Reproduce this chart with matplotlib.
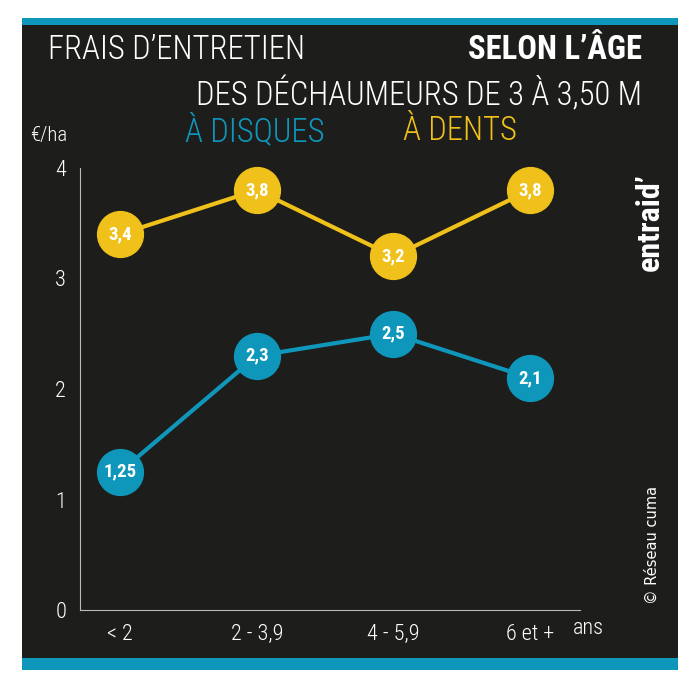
import matplotlib
matplotlib.use("Agg")
import matplotlib.pyplot as plt
from matplotlib import font_manager as fm
from matplotlib.patches import Rectangle

# Data
categories = ["< 2", "2 - 3,9", "4 - 5,9", "6 et +"]
disques = [1.25, 2.3, 2.5, 2.1]
dents = [3.4, 3.8, 3.2, 3.8]
disques_labels = ["1,25", "2,3", "2,5", "2,1"]
dents_labels = ["3,4", "3,8", "3,2", "3,8"]
yticks = [0, 1, 2, 3, 4]

BG = "#1d1d1b"
TEAL = "#0f97bb"
YELLOW = "#efc11a"

installed = {f.name for f in fm.fontManager.ttflist}
narrow = [n for n in ["Roboto Condensed", "Liberation Sans Narrow", "DejaVu Sans Condensed",
                      "Open Sans Condensed"] if n in installed]
FONT = narrow[:1] + ["Liberation Sans", "DejaVu Sans"]
plt.rcParams["font.family"] = FONT

W, H = 700, 689
fig = plt.figure(figsize=(W / 100, H / 100), dpi=100)
fig.patch.set_facecolor("white")

def px(x, y):
    return x / W, 1 - y / H

# black panel and teal bands
fig.patches.append(Rectangle(px(22, 670), 656 / W, 652 / H, transform=fig.transFigure,
                             facecolor=BG, edgecolor="none", zorder=-2))
fig.patches.append(Rectangle(px(22, 25), 656 / W, 7 / H, transform=fig.transFigure,
                             facecolor=TEAL, edgecolor="none", zorder=-1))
fig.patches.append(Rectangle(px(22, 670), 656 / W, 12 / H, transform=fig.transFigure,
                             facecolor=TEAL, edgecolor="none", zorder=-1))

ax = fig.add_axes([80 / W, 1 - 610 / H, 500 / W, 442 / H])
ax.set_zorder(2)
ax.set_facecolor("none")
x = list(range(len(categories)))

ax.plot(x, dents, color=YELLOW, lw=3, marker="o", ms=33, mfc=YELLOW, mec=YELLOW,
        zorder=3, clip_on=False)
ax.plot(x, disques, color=TEAL, lw=3, marker="o", ms=33, mfc=TEAL, mec=TEAL,
        zorder=3, clip_on=False)
for xi, v, lab in zip(x, dents, dents_labels):
    ax.text(xi, v, lab, color="white", fontsize=13.5, fontweight="bold",
            ha="center", va="center", zorder=4)
for xi, v, lab in zip(x, disques, disques_labels):
    ax.text(xi, v, lab, color="white", fontsize=13.5, fontweight="bold",
            ha="center", va="center", zorder=4)

ax.set_xlim(-0.293, 3.365)
ax.set_ylim(0, 4)
ax.set_xticks(x)
ax.set_xticklabels(categories, fontweight="light")
ax.set_yticks(yticks)
ax.set_yticklabels([str(t) for t in yticks], fontweight="light")
ax.tick_params(length=0, colors="white", labelsize=16, pad=10)
for s in ["top", "right"]:
    ax.spines[s].set_visible(False)
for s in ["left", "bottom"]:
    ax.spines[s].set_color("#bbbbbb")
    ax.spines[s].set_linewidth(0.8)

TS = 23.5 if narrow else 18.5

# titles
fig.text(*px(48, 50), "FRAIS D\u2019ENTRETIEN", color="white", fontsize=TS,
         fontweight="light", ha="left", va="center")
fig.text(*px(642, 50), "SELON L\u2019ÂGE", color="white", fontsize=TS,
         fontweight="bold", ha="right", va="center")
fig.text(*px(642, 95), "DES DÉCHAUMEURS DE 3 À 3,50 M", color="white", fontsize=TS,
         fontweight="light", ha="right", va="center")
fig.text(*px(185, 131), "À DISQUES", color=TEAL, fontsize=TS, fontweight="light",
         ha="left", va="center")
fig.text(*px(403, 131), "À DENTS", color=YELLOW, fontsize=TS, fontweight="light",
         ha="left", va="center")
fig.text(*px(30, 135), "€/ha", color="white", fontsize=15, fontweight="light",
         ha="left", va="center")
fig.text(*px(573, 628), "ans", color="white", fontsize=16, fontweight="light",
         ha="left", va="center")

# logo and credit
fig.text(*px(650, 222), "entraid\u2019", color="white", fontsize=23, fontweight="bold",
         rotation=90, ha="center", va="center")
fig.text(*px(652, 545), "© Réseau cuma", color="white", fontsize=10.5,
         rotation=90, ha="center", va="center", family=["DejaVu Sans"])

fig.savefig("out.png", dpi=100, facecolor=fig.get_facecolor())
